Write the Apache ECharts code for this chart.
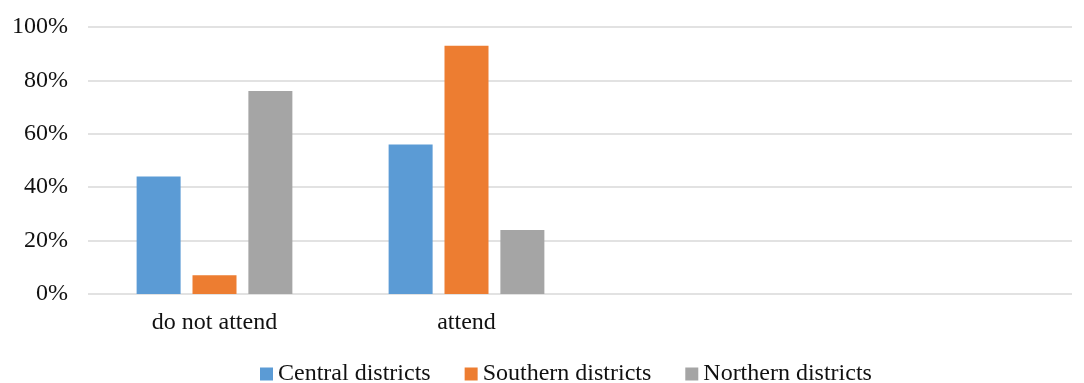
<!DOCTYPE html>
<html>
<head>
<meta charset="utf-8">
<script src="https://cdn.jsdelivr.net/npm/echarts@6/dist/echarts.min.js"></script>
<style>
  html, body { margin: 0; padding: 0; background: #fff; }
  #chart { width: 1084px; height: 383px; }
</style>
</head>
<body>
<div id="chart"></div>
<script>
// categories (two empty slots keep the plot spacing as in the original)
const categories = ['do not attend', 'attend', ' ', '  ']
const seriesNames = ['Central districts', 'Southern districts', 'Northern districts']
const central = [44, 56]
const southern = [7, 93]
const northern = [76, 24]
const colors = ['#5B9BD5', '#ED7D31', '#A5A5A5']

const font = 'Liberation Serif, Times New Roman, serif'
const textColor = '#111'

const chart = echarts.init(document.getElementById('chart'))

const option = {
  animation: false,
  color: colors,
  textStyle: { fontFamily: font },
  // grid 0: gridlines + y labels, grid 1: bars + category labels
  grid: [
    { left: 88, right: 12, top: 27, bottom: 89, outerBoundsMode: 'none' },
    { left: 88.5, width: 1008, top: 27, bottom: 89, outerBoundsMode: 'none' }
  ],
  legend: {
    data: seriesNames,
    top: 357,
    left: 255,
    icon: 'rect',
    itemWidth: 13,
    itemHeight: 13,
    itemGap: 34,
    textStyle: { fontFamily: font, fontSize: 24, color: textColor }
  },
  xAxis: [
    {
      gridIndex: 0,
      type: 'value',
      show: false
    },
    {
      gridIndex: 1,
      type: 'category',
      data: categories,
      axisTick: { show: false },
      axisLine: { show: false },
      axisLabel: { fontFamily: font, fontSize: 24, color: textColor, margin: 17 }
    }
  ],
  yAxis: [
    {
      gridIndex: 0,
      type: 'value',
      min: 0,
      max: 100,
      interval: 20,
      axisLabel: { formatter: '{value}%', fontFamily: font, fontSize: 24, color: textColor, margin: 20 },
      splitLine: { lineStyle: { color: '#d9d9d9', width: 1.5 } },
      axisLine: { show: false },
      axisTick: { show: false }
    },
    {
      gridIndex: 1,
      type: 'value',
      min: 0,
      max: 100,
      show: false,
      splitLine: { show: false }
    }
  ],
  series: [
    { name: seriesNames[0], type: 'bar', xAxisIndex: 1, yAxisIndex: 1, data: central, barWidth: 44, barGap: '27%' },
    { name: seriesNames[1], type: 'bar', xAxisIndex: 1, yAxisIndex: 1, data: southern, barWidth: 44, barGap: '27%' },
    { name: seriesNames[2], type: 'bar', xAxisIndex: 1, yAxisIndex: 1, data: northern, barWidth: 44, barGap: '27%' }
  ]
}

chart.setOption(option)
</script>
</body>
</html>
